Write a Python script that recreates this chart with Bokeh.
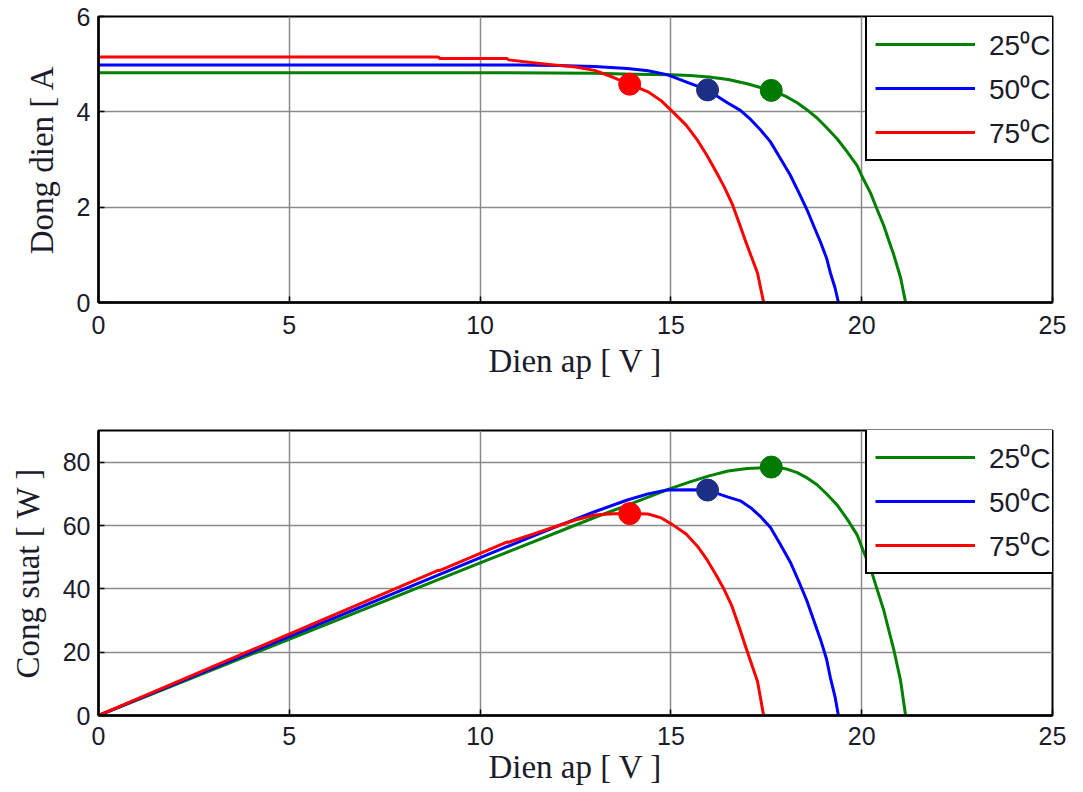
from bokeh.plotting import figure
from bokeh.layouts import column
from bokeh.models import Legend, LegendItem, FixedTicker, Range1d
from bokeh.embed import file_html
from bokeh.resources import INLINE

# Temperature labels
temps = ["25⁰C", "50⁰C", "75⁰C"]

# I-V characteristic, 25 °C
v_25 = [0, 10.0, 13.0, 14.0, 15.0, 15.5, 16.0, 16.5, 17.0, 17.3, 17.63, 18.0,
        18.31, 18.57, 18.83, 19.09, 19.36, 19.62, 19.88, 20.05, 20.23, 20.41,
        20.58, 20.71, 20.84, 21.02, 21.15]
i_25 = [4.82, 4.82, 4.81, 4.79, 4.78, 4.76, 4.73, 4.68, 4.59, 4.52, 4.45, 4.33,
        4.19, 4.04, 3.87, 3.66, 3.43, 3.16, 2.87, 2.58, 2.30, 1.94,
        1.61, 1.30, 1.00, 0.52, 0.0]

# I-V characteristic, 50 °C
v_50 = [0, 11.0, 12.0, 13.0, 13.86, 14.4, 14.9, 15.43, 15.96, 16.48, 16.82,
        17.09, 17.35, 17.61, 17.87, 18.13, 18.35, 18.57, 18.74, 18.92, 19.08,
        19.18, 19.3, 19.39]
i_50 = [4.98, 4.98, 4.97, 4.95, 4.91, 4.86, 4.78, 4.62, 4.46, 4.19, 4.03,
        3.84, 3.62, 3.37, 3.02, 2.67, 2.31, 1.94, 1.61, 1.27, 0.93,
        0.62, 0.31, 0.0]

# I-V characteristic, 75 °C
v_75 = [0, 8.9, 8.95, 10.7, 10.75, 11.5, 12.0, 12.5, 13.0, 13.5, 13.92, 14.4,
        14.75, 15.05, 15.4, 15.7, 15.95, 16.2, 16.4, 16.6, 16.8, 16.95, 17.1,
        17.27, 17.43]
i_75 = [5.15, 5.15, 5.12, 5.12, 5.09, 5.02, 4.98, 4.94, 4.87, 4.72, 4.58, 4.42,
        4.23, 4.00, 3.72, 3.40, 3.08, 2.72, 2.42, 2.08, 1.64, 1.30, 0.98,
        0.62, 0.0]

# Maximum power points (voltage, current)
mpp_v = [17.63, 15.96, 13.92]
mpp_i = [4.45, 4.46, 4.58]

x_ticks = [0, 5, 10, 15, 20, 25]
i_ticks = [0, 2, 4, 6]
p_ticks = [0, 20, 40, 60, 80]

line_colors = ["#008000", "#0000ff", "#ff0000"]
dot_colors = ["#007a00", "#1c2f87", "#ff0000"]

TEXT = "#1b1b2b"
SANS = "Liberation Sans"
SERIF = "Liberation Serif"


def make_fig(height, ymax, yticks, ylabel, top, bottom, lab_off, axlab_off):
    p = figure(width=1083, height=height, x_range=Range1d(0, 25),
               y_range=Range1d(0, ymax), output_backend="svg",
               toolbar_location=None, min_border_left=98, min_border_right=31,
               min_border_top=top, min_border_bottom=bottom)
    p.background_fill_color = "white"
    p.border_fill_color = "white"
    p.outline_line_color = "black"
    p.outline_line_width = 2
    p.outline_line_alpha = 1

    p.xaxis.ticker = FixedTicker(ticks=x_ticks)
    p.yaxis.ticker = FixedTicker(ticks=yticks)
    for ax in (p.xaxis, p.yaxis):
        ax.axis_line_color = "black"
        ax.axis_line_width = 2.5
        ax.major_tick_in = 6
        ax.major_tick_out = 0
        ax.major_tick_line_color = "black"
        ax.major_tick_line_width = 1.5
        ax.minor_tick_line_color = None
        ax.major_label_text_font = SANS
        ax.major_label_text_font_size = "25px"
        ax.major_label_text_color = TEXT
        ax.axis_label_text_font = SERIF
        ax.axis_label_text_font_size = "33px"
        ax.axis_label_text_font_style = "normal"
        ax.axis_label_text_color = TEXT
    p.xaxis.major_label_standoff = lab_off
    p.xaxis.axis_label_standoff = axlab_off
    p.yaxis.major_label_standoff = 8
    p.yaxis.axis_label_standoff = 14
    p.xaxis.axis_label = "Dien ap [ V ]"
    p.yaxis.axis_label = ylabel

    p.grid.grid_line_color = "#8a8a8a"
    p.grid.grid_line_width = 1.5
    p.grid.grid_line_alpha = 1
    return p


def add_curves(p, ys, marker_ys):
    xs = [v_25, v_50, v_75]
    items = []
    for k in range(3):
        r = p.line(xs[k], ys[k], line_color=line_colors[k], line_width=3,
                   line_join="round")
        items.append(LegendItem(label=temps[k], renderers=[r]))
    for k in range(3):
        p.scatter([mpp_v[k]], [marker_ys[k]], size=22, marker="circle",
                  fill_color=dot_colors[k], line_color=dot_colors[k])
    legend = Legend(items=items, location=(767, 141), margin=0, padding=8,
                    spacing=6, glyph_width=100, glyph_height=30, label_height=30,
                    label_standoff=14, label_text_font=SANS,
                    label_text_font_size="28px", label_text_color=TEXT,
                    border_line_color="black", border_line_width=2,
                    border_line_alpha=1, background_fill_color="white",
                    background_fill_alpha=1)
    p.add_layout(legend)


# Current vs voltage
p1 = make_fig(390, 6, i_ticks, "Dong dien [ A", 16, 88, 13, 6)
add_curves(p1, [i_25, i_50, i_75], mpp_i)

# Power vs voltage, P = V * I
p_25 = [v * i for v, i in zip(v_25, i_25)]
p_50 = [v * i for v, i in zip(v_50, i_50)]
p_75 = [v * i for v, i in zip(v_75, i_75)]
mpp_p = [v * i for v, i in zip(mpp_v, mpp_i)]

p2 = make_fig(402, 90, p_ticks, "Cong suat [ W ]", 40, 77, 11, 1)
add_curves(p2, [p_25, p_50, p_75], mpp_p)

layout = column(p1, p2, spacing=0)
open("out.html", "w").write(file_html(layout, INLINE))
